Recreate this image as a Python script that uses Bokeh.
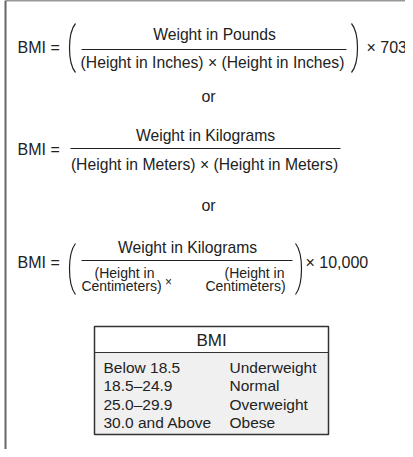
from bokeh.plotting import figure
from bokeh.models import Range1d
from bokeh.core.properties import value
from bokeh.embed import file_html
from bokeh.resources import INLINE

# ---- content ----
lhs_label = "BMI ="
f1_num = "Weight in Pounds"
f1_den = "(Height in Inches) \u00d7 (Height in Inches)"
f1_factor = "\u00d7 703"
or_label = "or"
f2_num = "Weight in Kilograms"
f2_den = "(Height in Meters) \u00d7 (Height in Meters)"
f3_num = "Weight in Kilograms"
f3_den_top = ["(Height in", "(Height in"]
f3_den_bot = ["Centimeters)", "Centimeters)"]
f3_factor = "\u00d7 10,000"
table_title = "BMI"
bmi_ranges = ["Below 18.5", "18.5\u201324.9", "25.0\u201329.9", "30.0 and Above"]
bmi_classes = ["Underweight", "Normal", "Overweight", "Obese"]

W, H = 405, 449
FONT = value("Liberation Sans")
INK = "#222222"

p = figure(width=W, height=H, output_backend="svg", toolbar_location=None,
           x_range=Range1d(0, W), y_range=Range1d(H, 0),
           min_border=0, outline_line_color=None)
p.axis.visible = False
p.grid.visible = False
p.background_fill_color = "white"

def X(x):
    return x - 8

def Y(y):
    return y - 8

def txt(x, y, s, size="15.7px", align="left", color=INK):
    p.text(x=[X(x)], y=[Y(y)], text=[s], text_font=FONT, text_font_size=value(size),
           text_align=align, text_baseline="middle", text_color=color)

def hline(x0, x1, y, w=1.2, color=INK):
    p.segment(x0=[X(x0)], y0=[Y(y)], x1=[X(x1)], y1=[Y(y)], line_width=w, line_color=color)

def paren(x_tip, x_edge, y0, y1, w=1.2):
    cx = (8 * x_tip - 2 * x_edge) / 6
    p.bezier(x0=[X(x_edge)], y0=[Y(y0)], x1=[X(x_edge)], y1=[Y(y1)],
             cx0=[X(cx)], cy0=[Y(y0 + (y1 - y0) * 0.2)],
             cx1=[X(cx)], cy1=[Y(y1 - (y1 - y0) * 0.2)],
             line_width=w, line_color=INK)

# ---- frame ----
p.segment(x0=[X(13)], y0=[Y(8)], x1=[X(413)], y1=[Y(8)], line_width=1.3, line_color="#333333")
p.segment(x0=[X(13)], y0=[Y(8)], x1=[X(13)], y1=[Y(457)], line_width=2, line_color="#666666")

# ---- formula 1 ----
txt(25, 55, lhs_label, size="16px")
paren(77, 83, 31, 80)
txt(222, 42, f1_num, align="center")
hline(89, 354, 57)
txt(220, 70, f1_den, size="15.7px", align="center")
paren(365, 359, 31, 80)
txt(374, 55, f1_factor, size="16px")

txt(216, 104, or_label, size="16px", align="center")

# ---- formula 2 ----
txt(25, 157, lhs_label, size="16px")
txt(213, 143, f2_num, align="center")
hline(78, 348, 156)
txt(212, 172, f2_den, size="15.7px", align="center")

txt(216, 213, or_label, size="16px", align="center")

# ---- formula 3 ----
txt(25, 270, lhs_label, size="16px")
paren(77, 83, 251, 302)
txt(195, 255, f3_num, align="center")
hline(89, 300, 268)
for cx_top, cx_bot, top, bot in zip([132, 262], [129, 253], f3_den_top, f3_den_bot):
    txt(cx_top, 280, top, size="14px", align="center")
    txt(cx_bot, 293, bot, size="14px", align="center")
txt(176, 289, "\u00d7", size="12px", align="center")
paren(309, 303, 251, 302)
txt(313, 270, f3_factor, size="16px")

# ---- table ----
bx0, bx1, by0, by_head, by1 = 102, 336, 334, 360, 442
p.quad(left=[X(bx0)], right=[X(bx1)], top=[Y(by_head)], bottom=[Y(by1)],
       fill_color="#f0f0f0", line_color=None)
p.quad(left=[X(bx0)], right=[X(bx1)], top=[Y(by0)], bottom=[Y(by_head)],
       fill_color="white", line_color=None)
p.quad(left=[X(bx0)], right=[X(bx1)], top=[Y(by0)], bottom=[Y(by1)],
       fill_color=None, line_color="#333333", line_width=1.5)
hline(bx0, bx1, by_head, w=1.2, color="#333333")
txt((bx0 + bx1) / 2, 348, table_title, size="17px", align="center")
row_y0, row_dy = 375, 18.3
p.text(x=[X(111)] * len(bmi_ranges), y=[Y(row_y0 + i * row_dy) for i in range(len(bmi_ranges))],
       text=bmi_ranges, text_font=FONT, text_font_size=value("15.5px"),
       text_align="left", text_baseline="middle", text_color=INK)
p.text(x=[X(237)] * len(bmi_classes), y=[Y(row_y0 + i * row_dy) for i in range(len(bmi_classes))],
       text=bmi_classes, text_font=FONT, text_font_size=value("15.5px"),
       text_align="left", text_baseline="middle", text_color=INK)

open("out.html", "w").write(file_html(p, INLINE))
